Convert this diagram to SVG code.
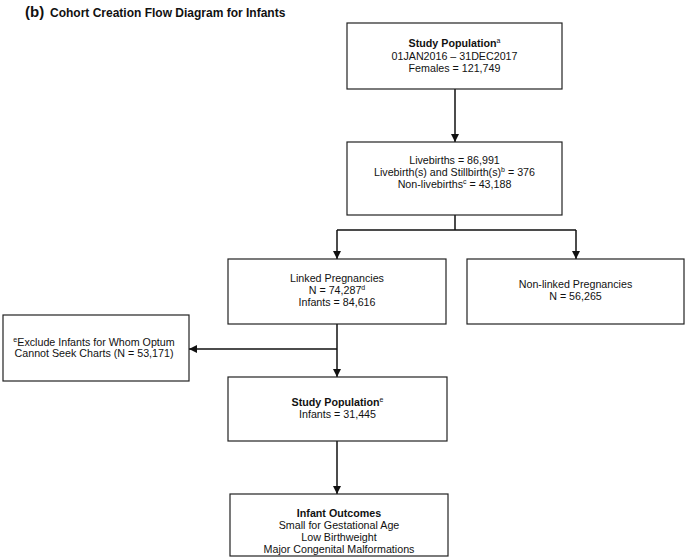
<svg xmlns="http://www.w3.org/2000/svg" width="685" height="560" viewBox="0 0 685 560">
<defs>
<style>
text{font-family:"Liberation Sans",Arial,sans-serif;font-size:10.7px;fill:#111;text-anchor:middle}
.b{font-weight:bold}
.sup{font-size:7px}
rect{fill:#fff;stroke:#222;stroke-width:1.2}
.c path{fill:none;stroke:#111;stroke-width:1.5}
</style>
<marker id="ah" viewBox="0 0 10 10" refX="10" refY="5" markerWidth="8" markerHeight="8" markerUnits="userSpaceOnUse" orient="auto">
<path d="M0,0 L10,5 L0,10 Z" fill="#111"/>
</marker>
</defs>
<rect x="0" y="0" width="685" height="560" style="fill:#fff;stroke:none"/>
<g id="title">
<text x="25" y="17" style="text-anchor:start;font-size:15px" class="b">(b)</text>
<text x="50" y="17" style="text-anchor:start;font-size:12px" class="b">Cohort Creation Flow Diagram for Infants</text>
</g>
<g class="c" id="connectors">
<path d="M455,89 V142" marker-end="url(#ah)"/>
<path d="M455,215 V230 M337,230 H576"/>
<path d="M337,230 V259" marker-end="url(#ah)"/>
<path d="M576,230 V259" marker-end="url(#ah)"/>
<path d="M337,324 V377" marker-end="url(#ah)"/>
<path d="M337,349 H189" marker-end="url(#ah)"/>
<path d="M337,441 V494" marker-end="url(#ah)"/>
</g>
<g id="n1">
<rect x="347" y="23" width="215" height="66"/>
<text x="454.5" y="47"><tspan class="b">Study Population</tspan><tspan class="sup" dy="-4">a</tspan></text>
<text x="454.5" y="60">01JAN2016 – 31DEC2017</text>
<text x="454.5" y="72">Females = 121,749</text>
</g>
<g id="n2">
<rect x="347" y="142" width="215" height="73"/>
<text x="454.5" y="164">Livebirths = 86,991</text>
<text x="454.5" y="176">Livebirth(s) and Stillbirth(s)<tspan class="sup" dy="-4">b</tspan><tspan dy="4"> = 376</tspan></text>
<text x="454.5" y="188">Non-livebirths<tspan class="sup" dy="-4">c</tspan><tspan dy="4"> = 43,188</tspan></text>
</g>
<g id="n3">
<rect x="228" y="259" width="218" height="65"/>
<text x="337" y="282">Linked Pregnancies</text>
<text x="337" y="294">N = 74,287<tspan class="sup" dy="-4">d</tspan></text>
<text x="337" y="306">Infants = 84,616</text>
</g>
<g id="n4">
<rect x="467" y="259" width="217" height="65"/>
<text x="575.5" y="288">Non-linked Pregnancies</text>
<text x="575.5" y="300">N = 56,265</text>
</g>
<g id="n5">
<rect x="3" y="315" width="186" height="66"/>
<text x="94" y="346"><tspan class="sup" dy="-4">e</tspan><tspan dy="4">Exclude Infants for Whom Optum</tspan></text>
<text x="94" y="357">Cannot Seek Charts (N = 53,171)</text>
</g>
<g id="n6">
<rect x="228" y="377" width="219" height="64"/>
<text x="337.5" y="406"><tspan class="b">Study Population</tspan><tspan class="sup" dy="-4">e</tspan></text>
<text x="337.5" y="418">Infants = 31,445</text>
</g>
<g id="n7">
<rect x="230" y="494" width="218" height="62"/>
<text x="339" y="517" class="b">Infant Outcomes</text>
<text x="339" y="529">Small for Gestational Age</text>
<text x="339" y="541">Low Birthweight</text>
<text x="339" y="553">Major Congenital Malformations</text>
</g>
</svg>
